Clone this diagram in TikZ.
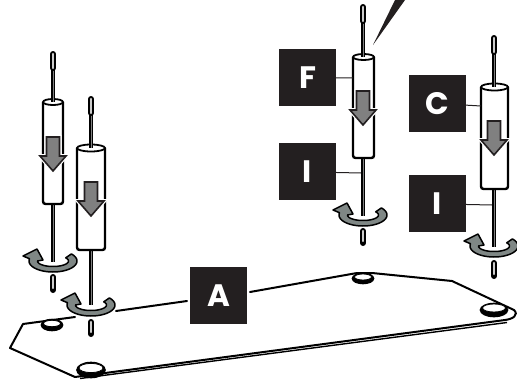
\documentclass[tikz,border=0pt]{standalone}
\usepackage{fontspec}
\setmainfont{Poppins}
\usetikzlibrary{positioning}
\definecolor{tagdark}{HTML}{231F20}
\definecolor{pushgray}{HTML}{808080}
\definecolor{spingray}{HTML}{7F8785}

\begin{document}
\begin{tikzpicture}[
x=1pt, y=-1pt,
node distance=37pt,
tag/.style={fill=tagdark,
text=white,
minimum size=57pt,
inner sep=0pt,
font=\fontsize{31}{31}\selectfont\bfseries},
leader/.style={draw=tagdark, line width=1pt},
plate/.style={line width=2pt, line join=round, line cap=round},
rod/.style={line width=4.4pt},
rodcore/.style={line width=0.5pt, draw=gray},
tip/.style={line width=6pt, line cap=round},
tipcore/.style={line width=2.2pt, line cap=round, draw=white!80!black},
tube/.style={draw, fill=white, line width=2.4pt, rounded corners=2.5pt},
tubetop/.style={draw, fill=white, line width=1.8pt},
washer/.style={draw, fill=white, line width=1.6pt},
washerface/.style={draw, fill=white, line width=0.8pt},
push/.pic={
\draw[white, line width=4pt, line join=miter]
(-6.5,0) -- (-6.5,19) -- (-13,19) -- (0,34) -- (13,19) -- (6.5,19) -- (6.5,0) -- cycle;
\draw[fill=pushgray, draw=tagdark, line width=1.6pt]
(-6.5,0) -- (-6.5,19) -- (-13,19) -- (0,34) -- (13,19) -- (6.5,19) -- (6.5,0) -- cycle;
},
spin/.pic={
\draw[white, line width=4pt]
plot[domain=-40:195, samples=40] ({24*cos(\x)}, {-2+11*sin(\x)});
\draw[fill=spingray, draw=black, line width=1.5pt, line join=round]
plot[domain=-40:192, samples=40] ({24*cos(\x)}, {-2+11*sin(\x)})
-- (-30,-7) -- (-16,-14) -- (-10,-3)
-- plot[domain=180:-35, samples=40] ({15.5*cos(\x)}, {-2+5.5*sin(\x)})
-- cycle;
}
]

\useasboundingbox (0,0) rectangle (517,380);

% plate
\draw[plate] (75,317) -- (23,324) -- (10,348) -- (75,377) -- (505,320)
.. controls (513,319) and (519,315) .. (514,310)
-- (452,281) -- (372,273) -- (357,273) -- (250,292);
\draw[plate] (116,311) -- (187,301);
\draw[line width=1.4pt] (80,378.5) -- (507,322.5);

\draw[washer, fill=black] (52,325) ellipse (10.5 and 5.5);
\draw[washerface] (52,323.5) ellipse (8.5 and 3.2);
\draw[washer, fill=black] (91,370) ellipse (14 and 7.5);
\draw[washerface] (91,368) ellipse (12 and 4.6);
\draw[washer, fill=black] (363,278.5) ellipse (10.5 and 5);
\draw[washerface] (363,277) ellipse (8.5 and 3);
\draw[washer, fill=black] (494,310) ellipse (13.5 and 6.5);
\draw[washerface] (494,308) ellipse (11.5 and 4);

% pointer
\fill[tagdark] (373,45) -- (395,0) -- (405,0) -- cycle;

% first pin
\draw[rod] (53,100) -- (53,262);
\draw[rodcore] (53,70) -- (53,262);
\draw[tube] (43,102) -- (43,204) -- (63,204) -- (63,102);
\draw[tubetop] (53,102) ellipse (10 and 3);
\draw[rod] (53,70) -- (53,102);
\draw[rodcore] (53,70) -- (53,102);
\draw[tip] (53,54) -- (53,68);
\draw[tipcore] (53,54) -- (53,68);
\draw[tip] (53,277) -- (53,290);
\draw[tipcore] (53,277) -- (53,288);
\pic at (53,137) {push};
\pic at (53,263) {spin};

% second pin
\draw[rod] (91,250) -- (91,305);
\draw[rodcore] (91,250) -- (91,305);
\draw[tube] (77,148) -- (77,250) -- (105,250) -- (105,148);
\draw[tubetop] (91,148) ellipse (14 and 3.5);
\draw[rod] (91,115) -- (91,148);
\draw[rodcore] (91,115) -- (91,148);
\draw[tip] (91,99) -- (91,113);
\draw[tipcore] (91,99) -- (91,113);
\draw[tip] (91,322) -- (91,334);
\draw[tipcore] (91,322) -- (91,332);
\pic at (91,182) {push};
\pic at (91,307) {spin};

% third pin
\draw[rod] (363,158) -- (363,216);
\draw[rodcore] (363,158) -- (363,216);
\draw[tube] (353,57) -- (353,158) -- (374,158) -- (374,57);
\draw[tubetop] (363.5,57) ellipse (10.5 and 3);
\draw[rod] (363,22) -- (363,57);
\draw[rodcore] (363,22) -- (363,57);
\draw[tip] (363,7) -- (363,21);
\draw[tipcore] (363,7) -- (363,21);
\draw[tip] (363,231) -- (363,243);
\draw[tipcore] (363,231) -- (363,241);
\pic at (363,91) {push};
\pic at (363,217) {spin};

% fourth pin
\draw[rod] (494,189) -- (494,247);
\draw[rodcore] (494,189) -- (494,247);
\draw[tube] (481,87) -- (481,189) -- (508,189) -- (508,87);
\draw[tubetop] (494.5,87) ellipse (13.5 and 3.5);
\draw[rod] (494,53) -- (494,87);
\draw[rodcore] (494,53) -- (494,87);
\draw[tip] (494,38) -- (494,52);
\draw[tipcore] (494,38) -- (494,52);
\draw[tip] (494,263) -- (494,276);
\draw[tipcore] (494,263) -- (494,274);
\pic at (494,121) {push};
\pic at (494,248) {spin};

% labels
\node[tag] (tagF) at (307.5,77.5) {F};
\node[tag, below=of tagF] (tagIF) {I};
\node[tag] (tagC) at (437.5,103.5) {C};
\node[tag, below=43pt of tagC] (tagIC) {I};
\node[tag] (tagA) at (218.5,295.5) {A};

\coordinate (edgeF) at (353,78);
\coordinate (edgeIF) at (361,173);
\coordinate (edgeC) at (481,106);
\coordinate (edgeIC) at (492,205);

\draw[leader] (tagF) -- (edgeF);
\draw[leader] (tagIF) -- (edgeIF);
\draw[leader] (tagC) -- (edgeC);
\draw[leader] (tagIC) -- (edgeIC);

\end{tikzpicture}
\end{document}
